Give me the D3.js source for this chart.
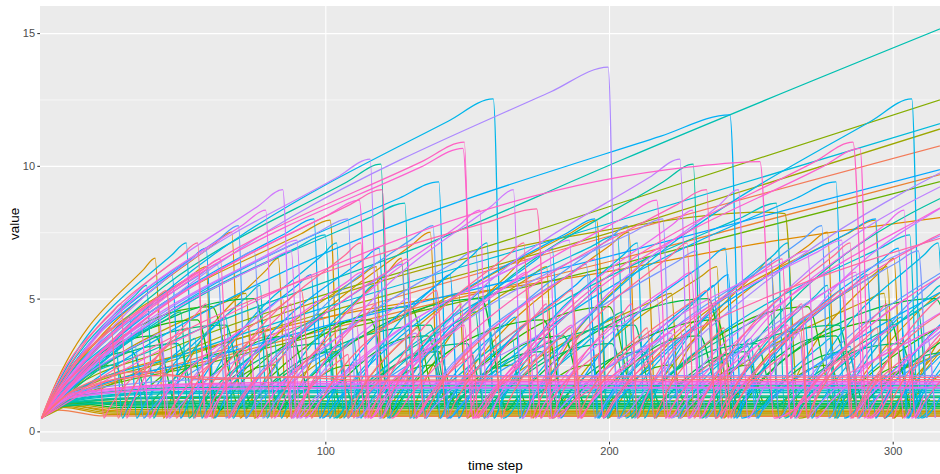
<!DOCTYPE html>
<html>
<head>
<meta charset="utf-8">
<script src="https://cdn.jsdelivr.net/npm/d3@7.9.0/dist/d3.min.js"></script>
<style>
  body { margin: 0; background: #fff; }
  svg { display: block; font-family: "Liberation Sans", Arial, sans-serif; }
</style>
</head>
<body>
<div id="chart"></div>
<script>
// each run: [group id, t, value, t, value, ...] knots
const xTicks = [100, 200, 300];
const yTicks = [0, 5, 10, 15];
const yMinor = [2.5, 7.5, 12.5];

// lines that settle on a level and stay there
const flatRuns = [
  [3, 0,.5, 6,.8, 22,.58, 60,.56, 320,.56],
  [13, 0,.5, 7,.9, 24,.64, 60,.61, 320,.61],
  [15, 0,.5, 7,.95, 25,.69, 60,.66, 320,.66],
  [17, 0,.5, 8,1.0, 26,.73, 60,.7, 320,.7],
  [10, 0,.5, 8,1.0, 27,.77, 60,.74, 320,.74],
  [18, 0,.5, 8,1.05, 28,.83, 60,.8, 320,.8],
  [32, 0,.5, 8,1.1, 28,.9, 60,.87, 320,.87],
  [35, 0,.5, 9,1.15, 30,.96, 70,.93, 320,.93],
  [40, 0,.5, 9,1.15, 30,1.01, 70,.99, 320,.99],
  [37, 0,.5, 8,.95, 30,1.06, 70,1.05, 320,1.05],
  [22, 0,.5, 8,.95, 30,1.08, 80,1.02, 320,1.02],
  [44, 0,.5, 8,.98, 32,1.1, 80,1.12, 320,1.12],
  [26, 0,.5, 8,1.0, 32,1.13, 80,1.15, 320,1.15],
  [41, 0,.5, 9,1.05, 38,1.23, 90,1.27, 320,1.27],
  [28, 0,.5, 9,1.05, 38,1.26, 90,1.3, 320,1.3],
  [46, 0,.5, 9,1.08, 40,1.3, 90,1.34, 320,1.34],
  [49, 0,.5, 10,1.13, 42,1.41, 100,1.46, 320,1.46],
  [51, 0,.5, 10,1.17, 45,1.47, 110,1.52, 320,1.52],
  [48, 0,.5, 10,1.2, 45,1.5, 110,1.55, 320,1.55],
  [71, 0,.5, 11,1.27, 48,1.57, 110,1.62, 320,1.62],
  [82, 0,.5, 11,1.3, 48,1.6, 120,1.66, 320,1.66],
  [43, 0,.5, 11,1.32, 50,1.65, 120,1.71, 320,1.71],
  [78, 0,.5, 12,1.35, 50,1.7, 120,1.77, 320,1.77],
  [80, 0,.5, 12,1.4, 52,1.76, 130,1.83, 320,1.83],
  [86, 0,.5, 12,1.45, 55,1.8, 130,1.88, 320,1.88],
  [69, 0,.5, 12,1.5, 55,1.95, 130,2.1, 320,2.1],
  [96, 0,.5, 12,1.55, 40,2.1, 70,2.0, 100,2.06, 320,2.03],
  [99, 0,.5, 12,1.6, 35,2.25, 60,1.95, 85,2.05, 115,1.93, 320,1.95]
];

// slow risers that never drop inside the window
const longRuns = [
  [47, 0,.5, 6,1.3, 40,3.1, 139,7.2, 204,10.2, 320,15.3],
  [24, 0,.5, 6,1.2, 45,3.1, 164,7.2, 204,8.6, 320,12.6],
  [54, 0,.5, 6,1.15, 50,2.9, 204,7.96, 320,11.7],
  [21, 0,.5, 6,1.1, 50,2.8, 204,7.6, 320,11.5],
  [2, 0,.5, 6,1.05, 50,2.6, 204,7.47, 320,10.85],
  [63, 0,.5, 6,1.0, 60,2.8, 204,6.7, 320,9.95],
  [5, 0,.5, 6,1.0, 60,2.7, 204,6.5, 320,9.76],
  [27, 0,.5, 6,.95, 60,2.6, 204,6.3, 320,9.5],
  [8, 0,.5, 6,1.1, 60,3.2, 204,6.1, 260,7.2, 320,8.1]
];

// sharp saw-tooth lines: rise, rounded top, sudden drop
const spikeRuns = [
  [11, 0,.5, 2.4,1.16, 36,6.1, 40,6.52, 43,.5, 45.4,1.16, 79.4,6.1, 83.4,6.52, 86.4,.5, 88.8,1.16, 122.8,6.1, 126.8,6.52, 129.8,.5, 132.2,1.16, 166.2,6.1, 170.2,6.52, 173.2,.5, 175.6,1.16, 209.6,6.1, 213.6,6.52, 216.6,.5, 219,1.16, 253,6.1, 257,6.52, 260,.5, 262.4,1.16, 296.4,6.1, 300.4,6.52, 303.4,.5, 305.8,1.16, 339.8,6.1],
  [12, 0,.5, 6.1,1.32, 91.5,7.44, 101.7,7.96, 105,.5, 110.4,1.32, 186,7.44, 195.6,7.96, 199.5,.5, 205,1.32, 284,7.44, 293.8,7.96, 297,.5, 302.6,1.32, 382,7.44],
  [14, 0,.5, 3.4,1.13, 52,5.8, 58,6.2, 60.5,.5, 64,1.13, 112,5.8, 118,6.2, 120.5,.5, 124,1.13, 172,5.8, 178,6.2, 180.5,.5, 184,1.13, 232,5.8, 238,6.2, 240.5,.5, 244,1.13, 292,5.8, 298,6.2, 300.5,.5, 304,1.13, 352,5.8],
  [19, 0,.5, 15,1.3, 200,7.6, 255,8.26, 262,8.2, 267,.5, 282,1.3, 497,7.6],
  [9, 0,.5, 4,1.2, 60.3,7.0, 67,7.5, 70,.5, 74,1.2, 130.3,7.0, 137,7.5, 140,.5, 144,1.2, 200.3,7.0, 207,7.5, 210,.5, 214,1.2, 270.3,7.0, 277,7.5, 280,.5, 284,1.2, 340,7.0],
  [45, 0,.5, 7.2,1.55, 107.6,9.39, 119.6,10.06, 122.6,.5, 129,1.55, 219,9.39, 229.7,10.06, 232.7,.5, 239,1.55, 329,9.39],
  [50, 0,.5, 7.7,1.31, 115.2,8.03, 128,8.6, 131,.5, 138.7,1.31, 246.2,8.03, 259,8.6, 262,.5, 269.7,1.31, 377,8.03],
  [53, 0,.5, 6,1.19, 90,6.92, 100,7.4, 103,.5, 109,1.19, 193,6.92, 203,7.4, 206,.5, 212,1.19, 296,6.92, 306,7.4, 309,.5, 315,1.19],
  [56, 0,.5, 3.1,1.23, 45.9,6.64, 51,7.1, 53.5,.5, 56.5,1.23, 99,6.64, 104,7.1, 106.5,.5, 109.5,1.23, 152,6.64, 157,7.1, 159.5,.5, 162.5,1.23, 205,6.64, 210,7.1, 212.5,.5, 215.5,1.23, 258,6.64, 263,7.1, 265.5,.5, 268.5,1.23, 311,6.64, 316,7.1, 318.5,.5],
  [57, 0,.5, 9.6,1.7, 143.3,11.68, 159.2,12.52, 162.7,.5, 171.3,1.7, 292.3,11.68, 306.7,12.52, 310.2,.5, 318.8,1.7],
  [59, 0,.5, 8.4,1.39, 126,8.78, 140,9.4, 143,.5, 151.2,1.39, 266,8.78, 280,9.4, 283,.5, 291.2,1.39, 406,8.78],
  [60, 0,.5, 14.6,1.64, 218.3,11.12, 242.6,11.92, 246.8,.5, 261.4,1.64, 465,11.12],
  [61, 0,.5, 3.5,1.2, 52.2,6.45, 58,6.9, 61,.5, 64.5,1.2, 113.2,6.45, 119,6.9, 122,.5, 125.5,1.2, 174.2,6.45, 180,6.9, 183,.5, 186.5,1.2, 235.2,6.45, 241,6.9, 244,.5, 247.5,1.2, 296.2,6.45, 302,6.9, 305,.5, 308.5,1.2, 357.2,6.45],
  [64, 0,.5, 2.8,1.09, 41.4,5.52, 46,5.9, 49,.5, 51.8,1.09, 90.4,5.52, 95,5.9, 98,.5, 100.8,1.09, 139.4,5.52, 144,5.9, 147,.5, 149.8,1.09, 188.4,5.52, 193,5.9, 196,.5, 198.8,1.09, 237.4,5.52, 242,5.9, 245,.5, 247.8,1.09, 286.4,5.52, 291,5.9, 294,.5, 296.8,1.09, 335.4,5.52],
  [66, 0,.5, 4.2,1.3, 62.5,7.24, 69.4,7.75, 72,.5, 76,1.3, 130.5,7.24, 138,7.75, 140.5,.5, 144.5,1.3, 200,7.24, 206.5,7.75, 209,.5, 213,1.3, 268.5,7.24, 275,7.75, 277.5,.5, 281.5,1.3, 337,7.24],
  [68, 0,.5, 4.5,1.13, 67.5,6.36, 75,6.8, 78,.5, 82.5,1.13, 145.5,6.36, 153,6.8, 156,.5, 160.5,1.13, 223.5,6.36, 231,6.8, 234,.5, 238.5,1.13, 301.5,6.36, 309,6.8, 312,.5],
  [70, 0,.5, 6.5,1.25, 97.2,7.48, 108,8.0, 111,.5, 117.5,1.25, 208.2,7.48, 219,8.0, 222,.5, 228.5,1.25, 319.2,7.48],
  [72, 0,.5, 12,1.82, 179.7,12.8, 199.7,13.72, 203,.5, 214.8,1.82, 380,12.8],
  [74, 0,.5, 6.9,1.57, 104.2,9.57, 115.8,10.25, 119,.5, 125.3,1.57, 214.3,9.57, 225,10.25, 228.2,.5, 234.5,1.57, 323.5,9.57],
  [76, 0,.5, 5.1,1.45, 76.5,8.5, 85,9.1, 88.5,.5, 93.2,1.45, 158.7,8.5, 166.3,9.1, 169.3,.5, 174,1.45, 238.6,8.5, 245.6,9.1, 249,.5, 253.6,1.45, 318.3,8.5],
  [77, 0,.5, 5.4,1.17, 81,6.73, 90,7.2, 93,.5, 98.4,1.17, 177,6.73, 186,7.2, 189,.5, 194.4,1.17, 273,6.73, 282,7.2, 285,.5, 290.4,1.17, 369,6.73],
  [81, 0,.5, 4.7,1.36, 71,7.78, 79,8.33, 82,.5, 86.4,1.36, 147.3,7.78, 154.5,8.33, 157,.5, 161.4,1.36, 222.3,7.78, 229.5,8.33, 232,.5, 236.4,1.36, 297.3,7.78, 304,8.33, 306.7,.5, 311,1.36],
  [85, 0,.5, 6.7,1.32, 100.8,8.14, 112,8.71, 115.8,.5, 121.9,1.32, 206.7,8.14, 216.8,8.71, 221,.5, 227,1.32, 312,8.14, 322,8.71],
  [87, 0,.5, 8.9,1.62, 133.6,9.95, 148.5,10.66, 153,.5, 161,1.62, 275,9.95, 288.5,10.66, 292,.5, 300,1.62],
  [88, 0,.5, 15.2,1.47, 227.9,9.95, 253.2,10.16, 258.2,.5, 273,1.47, 486,9.95],
  [89, 0,.5, 8.9,1.64, 134,10.16, 149,10.89, 152,.5, 160,1.64, 272.6,10.16, 286,10.89, 291,.5, 299,1.64],
  [91, 0,.5, 7.2,1.36, 108,8.5, 120,9.1, 123.4,.5, 130,1.36, 223.3,8.5, 234.4,9.1, 237.5,.5, 244,1.36, 337.4,8.5],
  [92, 0,.5, 1.7,.97, 25.2,4.5, 28,4.8, 30,.5, 31.7,.97, 55.2,4.5, 58,4.8, 60,.5, 61.7,.97, 85.2,4.5, 88,4.8, 90,.5, 91.7,.97, 115.2,4.5, 118,4.8, 120,.5, 121.7,.97, 145.2,4.5, 148,4.8, 150,.5, 151.7,.97, 175.2,4.5, 178,4.8, 180,.5, 181.7,.97, 205.2,4.5, 208,4.8, 210,.5, 211.7,.97, 235.2,4.5, 238,4.8, 240,.5, 241.7,.97, 265.2,4.5, 268,4.8, 270,.5, 271.7,.97, 295.2,4.5, 298,4.8, 300,.5, 301.7,.97, 325.2,4.5],
  [93, 0,.5, 10.5,1.29, 157,7.87, 174.5,8.38, 179,.5, 189.5,1.29, 336,7.87],
  [95, 0,.5, 3.3,1.23, 49.5,6.64, 55,7.1, 57.5,.5, 60.8,1.23, 107,6.64, 112.5,7.1, 115,.5, 118.3,1.23, 164.5,6.64, 170,7.1, 172.5,.5, 175.8,1.23, 222,6.64, 227.5,7.1, 230,.5, 233.3,1.23, 279.5,6.64, 285,7.1, 287.5,.5, 290.8,1.23, 337,6.64],
  [97, 0,.5, 2.6,1.03, 39.6,4.96, 44,5.3, 47.6,.5, 50.2,1.03, 87.2,4.96, 91.6,5.3, 95.2,.5, 97.8,1.03, 134.8,4.96, 139.2,5.3, 142.8,.5, 145.4,1.03, 182.4,4.96, 186.8,5.3, 190.4,.5, 193,1.03, 230,4.96, 234.4,5.3, 238,.5, 240.6,1.03, 277.6,4.96, 282,5.3, 285.6,.5, 288.2,1.03, 325.2,4.96],
  [98, 0,.5, 1.5,.87, 22,3.66, 24.5,3.9, 27,.5, 28.5,.87, 49,3.66, 51.5,3.9, 54,.5, 55.5,.87, 76,3.66, 78.5,3.9, 81,.5, 82.5,.87, 103,3.66, 105.5,3.9, 108,.5, 109.5,.87, 130,3.66, 132.5,3.9, 135,.5, 136.5,.87, 157,3.66, 159.5,3.9, 162,.5, 163.5,.87, 184,3.66, 186.5,3.9, 189,.5, 190.5,.87, 211,3.66, 213.5,3.9, 216,.5, 217.5,.87, 238,3.66, 240.5,3.9, 243,.5, 244.5,.87, 265,3.66, 267.5,3.9, 270,.5, 271.5,.87, 292,3.66, 294.5,3.9, 297,.5, 298.5,.87, 319,3.66]
];

// green lines with softer, rounded humps
const humpRuns = [
  [29, 0,.5, 2,.7, 20,2.4, 26,2.5, 31,1.0, 33,1.2, 48,2.4, 54,2.5, 59,1.0, 61,1.2, 76,2.4, 82,2.5, 87,1.0, 89,1.2, 104,2.4, 110,2.5, 115,1.0, 117,1.2, 132,2.4, 138,2.5, 143,1.0, 145,1.2, 160,2.4, 166,2.5, 171,1.0, 173,1.2, 188,2.4, 194,2.5, 199,1.0, 201,1.2, 216,2.4, 222,2.5, 227,1.0, 229,1.2, 244,2.4, 250,2.5, 255,1.0, 257,1.2, 272,2.4, 278,2.5, 283,1.0, 285,1.2, 300,2.4, 306,2.5, 311,1.0, 313,1.2],
  [30, 0,.5, 3.6,1.0, 45,4.45, 60,4.7, 70,.9, 74,1.35, 115,4.45, 130,4.7, 140,.9, 144,1.35, 185,4.45, 200,4.7, 210,.9, 214,1.35, 255,4.45, 270,4.7, 280,.9, 284,1.35, 325,4.45],
  [31, 0,.5, 3.3,.95, 41,3.98, 55,4.2, 63,.8, 66,1.25, 102,3.98, 116,4.2, 124,.8, 127,1.25, 163,3.98, 177,4.2, 185,.8, 188,1.25, 224,3.98, 238,4.2, 246,.8, 249,1.25, 285,3.98, 299,4.2, 307,.8, 310,1.25],
  [33, 0,.5, 2.4,.85, 30,3.45, 40,3.6, 48,.9, 51,1.2, 78,3.45, 88,3.6, 96,.9, 99,1.2, 126,3.45, 136,3.6, 144,.9, 147,1.2, 174,3.45, 184,3.6, 192,.9, 195,1.2, 222,3.45, 232,3.6, 240,.9, 243,1.2, 270,3.45, 280,3.6, 288,.9, 291,1.2, 318,3.45],
  [34, 0,.5, 4.5,1.0, 56,4.7, 75,5.0, 84,.8, 88,1.3, 136,4.7, 155,5.0, 164,.8, 168,1.3, 216,4.7, 235,5.0, 244,.8, 248,1.3, 296,4.7, 315,5.0, 324,.8],
  [36, 0,.5, 2,.8, 24,2.87, 32,3.0, 38,1.0, 40,1.25, 60,2.87, 68,3.0, 74,1.0, 76,1.25, 96,2.87, 104,3.0, 110,1.0, 112,1.25, 132,2.87, 140,3.0, 146,1.0, 148,1.25, 168,2.87, 176,3.0, 182,1.0, 184,1.25, 204,2.87, 212,3.0, 218,1.0, 220,1.25, 240,2.87, 248,3.0, 254,1.0, 256,1.25, 276,2.87, 284,3.0, 290,1.0, 292,1.25, 312,2.87, 320,3.0],
  [38, 0,.5, 3,.85, 36,3.15, 48,3.3, 55,.9, 58,1.2, 87,3.15, 99,3.3, 106,.9, 109,1.2, 138,3.15, 150,3.3, 157,.9, 160,1.2, 189,3.15, 201,3.3, 208,.9, 211,1.2, 240,3.15, 252,3.3, 259,.9, 262,1.2, 291,3.15, 303,3.3, 310,.9, 313,1.2],
  [39, 0,.5, 4,.9, 48,3.8, 65,4.0, 72,.9, 76,1.3, 121,3.8, 137,4.0, 144,.9, 148,1.3, 193,3.8, 209,4.0, 216,.9, 220,1.3, 265,3.8, 281,4.0, 288,.9, 292,1.3]
];

// the rest of the crowd in the middle band
const fillRuns = [
  [16, 0,.5, 4.3,.97, 64.8,4.87, 72,5.2, 75,.5, 79.3,.97, 139.8,4.87, 147,5.2, 150,.5, 154.3,.97, 214.8,4.87, 222,5.2, 225,.5, 229.3,.97, 289.8,4.87, 297,5.2, 300,.5, 304.3,.97, 364,4.87],
  [42, 0,.5, 2.9,.9, 44.1,4.22, 49,4.5, 52,.5, 54.9,.9, 96.1,4.22, 101,4.5, 104,.5, 106.9,.9, 148.1,4.22, 153,4.5, 156,.5, 158.9,.9, 200.1,4.22, 205,4.5, 208,.5, 210.9,.9, 252.1,4.22, 257,4.5, 260,.5, 262.9,.9, 304.1,4.22, 309,4.5, 312,.5],
  [52, 0,.5, 2.2,1.0, 33.3,5.15, 37,5.5, 39.5,.5, 41.7,1.0, 73.2,5.15, 77,5.5, 79.5,.5, 81.7,1.0, 113.2,5.15, 117,5.5, 119.5,.5, 121.7,1.0, 153.2,5.15, 157,5.5, 159.5,.5, 161.7,1.0, 193.2,5.15, 197,5.5, 199.5,.5, 201.7,1.0, 233.2,5.15, 237,5.5, 239.5,.5, 241.7,1.0, 273.2,5.15, 277,5.5, 279.5,.5, 281.7,1.0, 313.2,5.15, 317,5.5, 319.5,.5],
  [55, 0,.5, 1.6,.8, 23.4,3.29, 26,3.5, 28.5,.5, 30,.8, 51.5,3.29, 54,3.5, 56.5,.5, 58,.8, 79.5,3.29, 82,3.5, 84.5,.5, 86,.8, 107.5,3.29, 110,3.5, 112.5,.5, 114,.8, 135.5,3.29, 138,3.5, 140.5,.5, 142,.8, 163.5,3.29, 166,3.5, 168.5,.5, 170,.8, 191.5,3.29, 194,3.5, 196.5,.5, 198,.8, 219.5,3.29, 222,3.5, 224.5,.5, 226,.8, 247.5,3.29, 250,3.5, 252.5,.5, 254,.8, 275.5,3.29, 278,3.5, 280.5,.5, 282,.8, 303.5,3.29, 306,3.5, 308.5,.5, 310,.8, 331.5,3.29],
  [58, 0,.5, 1.9,.88, 28,4.03, 31,4.3, 33.5,.5, 35.5,.88, 61.7,4.03, 65,4.3, 67.5,.5, 69.5,.88, 95.7,4.03, 99,4.3, 101.5,.5, 103.5,.88, 129.7,4.03, 133,4.3, 135.5,.5, 137.5,.88, 163.7,4.03, 167,4.3, 169.5,.5, 171.5,.88, 197.7,4.03, 201,4.3, 203.5,.5, 205.5,.88, 231.7,4.03, 235,4.3, 237.5,.5, 239.5,.88, 265.7,4.03, 269,4.3, 271.5,.5, 273.5,.88, 299.7,4.03, 303,4.3, 305.5,.5, 307.5,.88, 333.7,4.03],
  [62, 0,.5, 5.8,1.25, 86.4,7.48, 96,8.0, 99,.5, 104.8,1.25, 185.4,7.48, 195,8.0, 198,.5, 203.8,1.25, 284.4,7.48, 294,8.0, 297,.5, 302.8,1.25, 383,7.48],
  [65, 0,.5, 2,.77, 29.7,3.01, 33,3.2, 36,.5, 38,.77, 65.7,3.01, 69,3.2, 72,.5, 74,.77, 101.7,3.01, 105,3.2, 108,.5, 110,.77, 137.7,3.01, 141,3.2, 144,.5, 146,.77, 173.7,3.01, 177,3.2, 180,.5, 182,.77, 209.7,3.01, 213,3.2, 216,.5, 218,.77, 245.7,3.01, 249,3.2, 252,.5, 254,.77, 281.7,3.01, 285,3.2, 288,.5, 290,.77, 317.7,3.01],
  [67, 0,.5, 3.7,1.08, 55.8,5.9, 62,6.3, 65,.5, 68.7,1.08, 120.8,5.9, 127,6.3, 130,.5, 133.7,1.08, 185.8,5.9, 192,6.3, 195,.5, 198.7,1.08, 250.8,5.9, 257,6.3, 260,.5, 263.7,1.08, 315.8,5.9, 322,6.3],
  [73, 0,.5, 2.5,.82, 37.8,3.48, 42,3.7, 45,.5, 47.5,.82, 82.8,3.48, 87,3.7, 90,.5, 92.5,.82, 127.8,3.48, 132,3.7, 135,.5, 137.5,.82, 172.8,3.48, 177,3.7, 180,.5, 182.5,.82, 217.8,3.48, 222,3.7, 225,.5, 227.5,.82, 262.8,3.48, 267,3.7, 270,.5, 272.5,.82, 307.8,3.48, 312,3.7, 315,.5],
  [75, 0,.5, 2.5,.95, 36.9,4.69, 41,5.0, 44,.5, 46.5,.95, 80.9,4.69, 85,5.0, 88,.5, 90.5,.95, 124.9,4.69, 129,5.0, 132,.5, 134.5,.95, 168.9,4.69, 173,5.0, 176,.5, 178.5,.95, 212.9,4.69, 217,5.0, 220,.5, 222.5,.95, 256.9,4.69, 261,5.0, 264,.5, 266.5,.95, 300.9,4.69, 305,5.0, 308,.5, 310.5,.95],
  [79, 0,.5, 5.3,1.13, 79.2,6.36, 88,6.8, 91,.5, 96.3,1.13, 170.2,6.36, 179,6.8, 182,.5, 187.3,1.13, 261.2,6.36, 270,6.8, 273,.5, 278.3,1.13, 352,6.36],
  [83, 0,.5, 3.3,1.05, 49.5,5.62, 55,6.0, 58,.5, 61.3,1.05, 107.5,5.62, 113,6.0, 116,.5, 119.3,1.05, 165.5,5.62, 171,6.0, 174,.5, 177.3,1.05, 223.5,5.62, 229,6.0, 232,.5, 235.3,1.05, 281.5,5.62, 287,6.0, 290,.5, 293.3,1.05, 339.5,5.62],
  [84, 0,.5, 2.1,.85, 31.5,3.76, 35,4.0, 38,.5, 40.1,.85, 69.5,3.76, 73,4.0, 76,.5, 78.1,.85, 107.5,3.76, 111,4.0, 114,.5, 116.1,.85, 145.5,3.76, 149,4.0, 152,.5, 154.1,.85, 183.5,3.76, 187,4.0, 190,.5, 192.1,.85, 221.5,3.76, 225,4.0, 228,.5, 230.1,.85, 259.5,3.76, 263,4.0, 266,.5, 268.1,.85, 297.5,3.76, 301,4.0, 304,.5, 306.1,.85],
  [90, 0,.5, 3.8,1.1, 56.7,6.08, 63,6.5, 66,.5, 69.8,1.1, 122.7,6.08, 129,6.5, 132,.5, 135.8,1.1, 188.7,6.08, 195,6.5, 198,.5, 201.8,1.1, 254.7,6.08, 261,6.5, 264,.5, 267.8,1.1, 320.7,6.08],
  [94, 0,.5, 1.2,.74, 18,2.73, 20,2.9, 22,.5, 23.2,.74, 39.8,2.73, 42,2.9, 44,.5, 45.2,.74, 61.8,2.73, 64,2.9, 66,.5, 67.2,.74, 83.8,2.73, 86,2.9, 88,.5, 89.2,.74, 105.8,2.73, 108,2.9, 110,.5, 111.2,.74, 127.8,2.73, 130,2.9, 132,.5, 133.2,.74, 149.8,2.73, 152,2.9, 154,.5, 155.2,.74, 171.8,2.73, 174,2.9, 176,.5, 177.2,.74, 193.8,2.73, 196,2.9, 198,.5, 199.2,.74, 215.8,2.73, 218,2.9, 220,.5, 221.2,.74, 237.8,2.73, 240,2.9, 242,.5, 243.2,.74, 259.8,2.73, 262,2.9, 264,.5, 265.2,.74, 281.8,2.73, 284,2.9, 286,.5, 287.2,.74, 303.8,2.73, 306,2.9, 308,.5, 309.2,.74, 325.8,2.73]
];

const width = 940;
const height = 474;
const panel = { left: 40, right: 940, top: 6, bottom: 441.7 };
const groupCount = 100;
const font = '"Liberation Sans", Arial, sans-serif';

const series = [...flatRuns, ...longRuns, ...spikeRuns, ...humpRuns, ...fillRuns]
    .map((r) => ({
        group: r[0],
        points: d3.range(1, r.length, 2).map((i) => [r[i], r[i + 1]])
    }))
    .sort((a, b) => a.group - b.group);

const xScale = d3.scaleLinear().domain([-0.564, 316.67]).range([panel.left, panel.right]);
const yScale = d3.scaleLinear().domain([-0.39, 16.02]).range([panel.bottom, panel.top]);

// R's hcl() is polar CIE-LUV, not the polar Lab that d3.hcl uses
function hclLuv(h, c, l) {
    const xn = 95.047, yn = 100, zn = 108.883;
    const un = 4 * xn / (xn + 15 * yn + 3 * zn);
    const vn = 9 * yn / (xn + 15 * yn + 3 * zn);
    const rad = h * Math.PI / 180;
    const u = c * Math.cos(rad), v = c * Math.sin(rad);
    const Y = yn * Math.pow((l + 16) / 116, 3);
    const up = u / (13 * l) + un, vp = v / (13 * l) + vn;
    const X = Y * 9 * up / (4 * vp);
    const Z = Y * (12 - 3 * up - 20 * vp) / (4 * vp);
    const lin = [
        3.2404542 * X - 1.5371385 * Y - 0.4985314 * Z,
        -0.9692660 * X + 1.8760108 * Y + 0.0415560 * Z,
        0.0556434 * X - 0.2040259 * Y + 1.0572252 * Z
    ].map((ch) => {
        const s = ch / 100;
        const g = s <= 0.0031308 ? 12.92 * s : 1.055 * Math.pow(s, 1 / 2.4) - 0.055;
        return Math.round(255 * Math.max(0, Math.min(1, g)));
    });
    return d3.rgb(lin[0], lin[1], lin[2]).formatHex();
}

const colorScale = d3.scaleOrdinal()
    .domain(d3.range(groupCount))
    .range(d3.range(groupCount).map((i) => hclLuv(15 + 360 * i / groupCount, 100, 65)));

const svg = d3.select('#chart')
    .append('svg')
    .attr('width', width)
    .attr('height', height);

svg.append('rect')
    .attr('x', panel.left)
    .attr('y', panel.top)
    .attr('width', panel.right - panel.left)
    .attr('height', panel.bottom - panel.top)
    .attr('fill', '#EBEBEB');

svg.append('clipPath')
    .attr('id', 'panel-clip')
    .append('rect')
    .attr('x', panel.left)
    .attr('y', panel.top)
    .attr('width', panel.right - panel.left)
    .attr('height', panel.bottom - panel.top);

const minorGrid = svg.append('g')
    .attr('transform', `translate(${panel.left}, 0)`)
    .call(d3.axisLeft(yScale).tickValues(yMinor).tickFormat('').tickSize(-(panel.right - panel.left)));
minorGrid.select('.domain').remove();
minorGrid.selectAll('line').attr('stroke', '#fff').attr('stroke-width', 0.55);

const majorGridY = svg.append('g')
    .attr('transform', `translate(${panel.left}, 0)`)
    .call(d3.axisLeft(yScale).tickValues(yTicks).tickFormat('').tickSize(-(panel.right - panel.left)));
majorGridY.select('.domain').remove();
majorGridY.selectAll('line').attr('stroke', '#fff').attr('stroke-width', 1.1);

const majorGridX = svg.append('g')
    .attr('transform', `translate(0, ${panel.bottom})`)
    .call(d3.axisBottom(xScale).tickValues(xTicks).tickFormat('').tickSize(-(panel.bottom - panel.top)));
majorGridX.select('.domain').remove();
majorGridX.selectAll('line').attr('stroke', '#fff').attr('stroke-width', 1.1);

const line = d3.line()
    .x((d) => xScale(d[0]))
    .y((d) => yScale(d[1]))
    .curve(d3.curveMonotoneX);

svg.append('g')
    .attr('clip-path', 'url(#panel-clip)')
    .selectAll('path')
    .data(series)
    .join('path')
    .attr('d', (d) => line(d.points))
    .attr('fill', 'none')
    .attr('stroke', (d) => colorScale(d.group))
    .attr('stroke-width', 1.25);

const yAxis = svg.append('g')
    .attr('transform', `translate(${panel.left}, 0)`)
    .call(d3.axisLeft(yScale).tickValues(yTicks).tickSize(2.7).tickPadding(2.2));
yAxis.select('.domain').remove();
yAxis.attr('font-family', font).attr('font-size', 11);
yAxis.selectAll('line').attr('stroke', '#333333').attr('stroke-width', 1.05);
yAxis.selectAll('text').attr('fill', '#4D4D4D');

const xAxis = svg.append('g')
    .attr('transform', `translate(0, ${panel.bottom})`)
    .call(d3.axisBottom(xScale).tickValues(xTicks).tickSize(2.7).tickPadding(3.3));
xAxis.select('.domain').remove();
xAxis.attr('font-family', font).attr('font-size', 11);
xAxis.selectAll('line').attr('stroke', '#333333').attr('stroke-width', 1.05);
xAxis.selectAll('text').attr('fill', '#4D4D4D');

svg.append('text')
    .attr('x', 495.5)
    .attr('y', 469.5)
    .attr('text-anchor', 'middle')
    .attr('font-family', font)
    .attr('font-size', 13.5)
    .attr('fill', '#000')
    .text('time step');

svg.append('text')
    .attr('transform', `translate(18.5, ${(panel.top + panel.bottom) / 2}) rotate(-90)`)
    .attr('text-anchor', 'middle')
    .attr('font-family', font)
    .attr('font-size', 13.5)
    .attr('fill', '#000')
    .text('value');
</script>
</body>
</html>
